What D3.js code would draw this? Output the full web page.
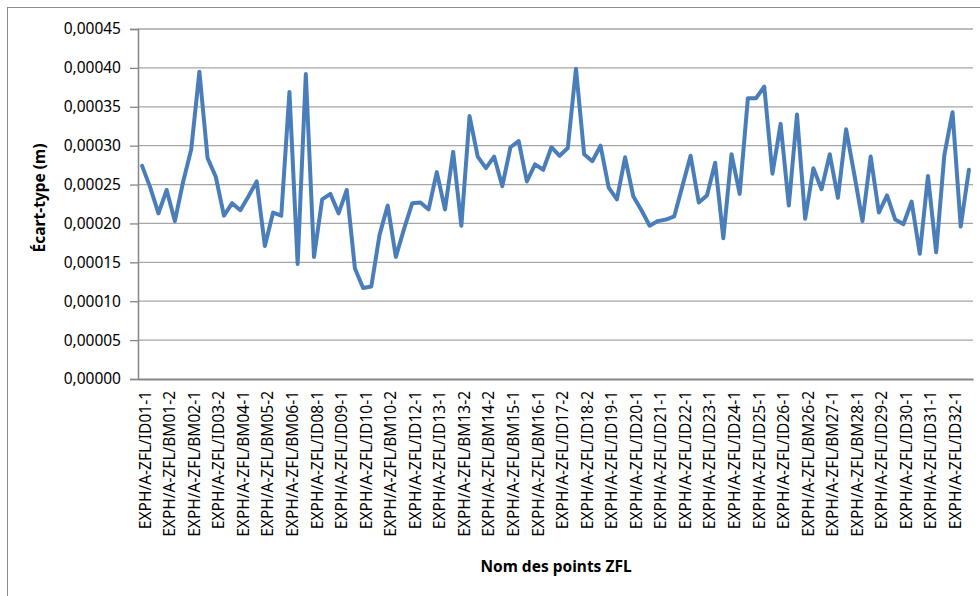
<!DOCTYPE html>
<html>
<head>
<meta charset="utf-8">
<script src="https://cdn.jsdelivr.net/npm/d3@7"></script>
<style>
  html, body { margin: 0; padding: 0; background: #fff; }
  svg { display: block; }
</style>
</head>
<body>
<svg id="chart" width="980" height="596"></svg>
<script>
// ---- Data ----
const pointSuffixes = [
  "ID01-1","ID01-2","BM01-1","BM01-2","ID02-1","ID02-2","BM02-1","BM02-2","ID03-1","ID03-2",
  "BM03-1","ID04-1","BM04-1","BM04-2","ID05-1","BM05-2","ID06-1","ID06-2","BM06-1","BM06-2",
  "ID07-1","ID08-1","ID08-2","BM08-1","ID09-1","ID09-2","BM09-1","ID10-1","ID10-2","BM10-1",
  "BM10-2","ID11-1","ID11-2","ID12-1","ID12-2","BM12-1","ID13-1","ID13-2","BM13-1","BM13-2",
  "ID14-1","BM14-1","BM14-2","ID15-1","ID15-2","BM15-1","BM15-2","ID16-1","BM16-1","BM16-2",
  "ID17-1","ID17-2","BM17-1","ID18-1","ID18-2","BM18-1","BM18-2","ID19-1","ID19-2","BM19-1",
  "ID20-1","ID20-2","BM20-1","ID21-1","ID21-2","BM21-1","ID22-1","ID22-2","BM22-1","ID23-1",
  "ID23-2","BM23-1","ID24-1","ID24-2","BM24-1","ID25-1","ID25-2","BM25-1","ID26-1","ID26-2",
  "BM26-1","BM26-2","ID27-1","ID27-2","BM27-1","BM27-2","ID28-1","BM28-1","BM28-2","ID29-1",
  "ID29-2","BM29-1","BM29-2","ID30-1","ID30-2","BM30-1","ID31-1","ID31-2","BM31-1","ID32-1",
  "ID32-2","BM32-1"
];
const categories = pointSuffixes.map(s => "EXPH/A-ZFL/" + s);

const stdDev = [
  0.000274,0.000246,0.000213,0.000243,0.000203,0.000253,0.000295,0.000395,0.000284,0.000260,
  0.000210,0.000226,0.000217,0.000235,0.000254,0.000171,0.000214,0.000210,0.000369,0.000148,
  0.000392,0.000157,0.000231,0.000238,0.000213,0.000243,0.000142,0.000117,0.000119,0.000185,
  0.000223,0.000157,0.000193,0.000226,0.000227,0.000218,0.000266,0.000218,0.000292,0.000197,
  0.000338,0.000286,0.000271,0.000286,0.000248,0.000298,0.000306,0.000254,0.000276,0.000269,
  0.000298,0.000287,0.000297,0.000399,0.000289,0.000280,0.000300,0.000246,0.000231,0.000285,
  0.000235,0.000217,0.000197,0.000203,0.000205,0.000209,0.000248,0.000287,0.000227,0.000236,
  0.000278,0.000181,0.000289,0.000238,0.000361,0.000361,0.000376,0.000264,0.000328,0.000223,
  0.000340,0.000206,0.000271,0.000244,0.000289,0.000233,0.000321,0.000263,0.000203,0.000286,
  0.000214,0.000236,0.000205,0.000199,0.000228,0.000161,0.000261,0.000163,0.000288,0.000343,
  0.000196,0.000269
];

const yTicks = [0, 0.00005, 0.0001, 0.00015, 0.0002, 0.00025, 0.0003, 0.00035, 0.0004, 0.00045];
const labelEvery = 3;
const yTitle = "Écart-type (m)";
const xTitle = "Nom des points ZFL";

// ---- Layout ----
const svg = d3.select("#chart");
const plot = { left: 138, right: 973, top: 29, bottom: 379 };
const font = "'Noto Sans', 'Open Sans', sans-serif";

// outer chart border
svg.append("rect")
  .attr("x", 7.5).attr("y", 7.5)
  .attr("width", 990).attr("height", 600)
  .attr("fill", "none").attr("stroke", "#8c8c8c").attr("stroke-width", 1);

const x = d3.scaleBand().domain(categories).range([plot.left, plot.right]).padding(0);
const y = d3.scaleLinear().domain([0, 0.00045]).range([plot.bottom, plot.top]);
const fmt = v => v.toFixed(5).replace(".", ",");

// gridlines
svg.append("g")
  .selectAll("line")
  .data(yTicks.filter(t => t > 0))
  .join("line")
  .attr("x1", plot.left).attr("x2", plot.right)
  .attr("y1", d => y(d)).attr("y2", d => y(d))
  .attr("stroke", "#a6a6a6").attr("stroke-width", 1.3);

// y axis
const yAxis = svg.append("g")
  .attr("transform", `translate(${plot.left},0)`)
  .call(d3.axisLeft(y).tickValues(yTicks).tickFormat(fmt).tickSize(8).tickPadding(9));
yAxis.select(".domain").attr("stroke", "#868686").attr("stroke-width", 1.5);
yAxis.selectAll(".tick line").attr("stroke", "#868686").attr("stroke-width", 1.3);
yAxis.selectAll(".tick text")
  .attr("font-family", font).attr("font-size", "15.5px").attr("fill", "#000");

// x axis
const xAxis = svg.append("g")
  .attr("transform", `translate(0,${plot.bottom})`)
  .call(d3.axisBottom(x)
    .tickValues(categories.filter((d, i) => i % labelEvery === 0))
    .tickSize(0).tickSizeOuter(0));
xAxis.select(".domain").attr("stroke", "#868686").attr("stroke-width", 2);
xAxis.selectAll(".tick text")
  .attr("font-family", font).attr("font-size", "15.5px").attr("fill", "#000")
  .attr("transform", "rotate(-90)")
  .attr("text-anchor", "end")
  .attr("dominant-baseline", "central")
  .attr("x", -12).attr("y", 2.5).attr("dy", null);

// line
const line = d3.line()
  .x((d, i) => x(categories[i]) + x.bandwidth() / 2)
  .y(d => y(d));
svg.append("path")
  .datum(stdDev)
  .attr("d", line)
  .attr("fill", "none")
  .attr("stroke", "#4a7ebb")
  .attr("stroke-width", 4)
  .attr("stroke-linejoin", "round")
  .attr("stroke-linecap", "round");

// axis titles
svg.append("text")
  .attr("transform", `translate(45,${(plot.top + plot.bottom) / 2 - 6}) rotate(-90)`)
  .attr("text-anchor", "middle")
  .attr("font-family", font).attr("font-weight", "bold").attr("font-size", "15.5px")
  .text(yTitle);

svg.append("text")
  .attr("x", 556).attr("y", 572)
  .attr("text-anchor", "middle")
  .attr("font-family", font).attr("font-weight", "bold").attr("font-size", "15.5px")
  .text(xTitle);
</script>
</body>
</html>
